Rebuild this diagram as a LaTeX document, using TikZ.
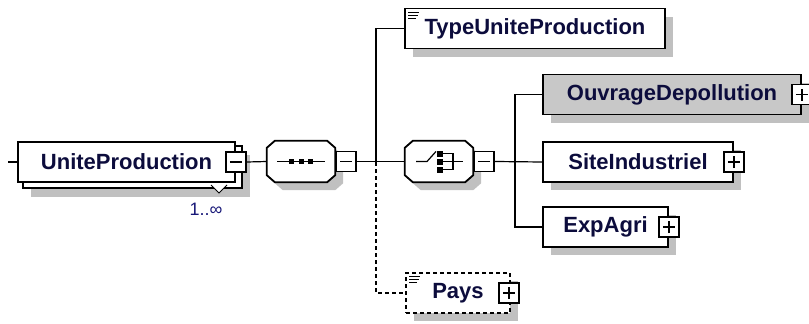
\documentclass[tikz,border=0pt]{standalone}
\usepackage{fontspec}
\setmainfont{Liberation Sans}
\usetikzlibrary{shadows,backgrounds}
\definecolor{namecol}{RGB}{12,12,60}
\definecolor{cardcol}{RGB}{24,24,120}
\definecolor{shadegray}{RGB}{192,192,192}
\definecolor{fillgray}{RGB}{200,200,200}

\begin{document}
\begin{tikzpicture}[x=1pt,y=-1pt]

\tikzstyle{el} = [rectangle, draw=black, line width=1.8pt, fill=white, minimum height=40pt, inner sep=0pt, text=namecol, font=\fontsize{22}{22}\selectfont\bfseries]
\tikzstyle{sh} = [drop shadow={shadow xshift=8pt, shadow yshift=-8pt, fill=shadegray, opacity=1}]
\tikzstyle{oct} = [rectangle, minimum width=68pt, minimum height=41pt, inner sep=0pt]
\tikzstyle{minus} = [rectangle, draw=black, line width=1.8pt, fill=white, minimum size=20pt, inner sep=0pt, path picture={\draw[line width=1.2pt] ([xshift=4pt]path picture bounding box.west) -- ([xshift=-4pt]path picture bounding box.east);}]
\tikzstyle{plus} = [rectangle, draw=black, line width=1.8pt, fill=white, minimum size=20pt, inner sep=0pt, path picture={\draw[line width=1.2pt] ([xshift=4pt]path picture bounding box.west) -- ([xshift=-4pt]path picture bounding box.east) ([yshift=4pt]path picture bounding box.south) -- ([yshift=-4pt]path picture bounding box.north);}]
\tikzstyle{e} = [line width=1.2pt]

\useasboundingbox (0,0) rectangle (809,324);

\node[el, minimum width=217pt](up)at(126.5,162){UniteProduction};
\node[oct](seq)at(301,161.5){};
\node[oct](cho)at(439,161.5){};
\node[el, sh, minimum width=260pt](type)at(535,28.5){TypeUniteProduction};
\node[el, sh, fill=fillgray, minimum width=258pt](ouv)at(672,94.5){OuvrageDepollution};
\node[el, sh, minimum width=190pt](site)at(638,162){SiteIndustriel};
\node[el, sh, minimum width=125pt](exp)at(605.5,227){ExpAgri};
\node[el, sh, dashed, dash pattern=on 4pt off 3pt, minimum width=104pt](pays)at(458,293){Pays};

\foreach \nd in {seq,cho}
  \draw[sh, line width=1.8pt, fill=white] ([xshift=8pt]\nd.north west) -- ([xshift=-8pt]\nd.north east)
    -- ([yshift=-7pt]\nd.north east) -- ([yshift=7pt]\nd.south east) -- ([xshift=-8pt]\nd.south east)
    -- ([xshift=8pt]\nd.south west) -- ([yshift=7pt]\nd.south west) -- ([yshift=-7pt]\nd.north west) -- cycle;

\node[minus](upm)at(up.east){};
\node[minus, anchor=west](seqm)at(seq.east){};
\node[minus, anchor=west](chom)at(cho.east){};
\node[plus](ouvp)at(ouv.east){};
\node[plus](sitep)at(site.east){};
\node[plus](expp)at(exp.east){};
\node[plus](paysp)at([xshift=-2pt]pays.east){};

\node[font=\fontsize{18}{18}\selectfont, text=cardcol](card)at(206,209){1..∞};

\begin{scope}[on background layer]
\fill[shadegray] ([shift={(14,14)}]up.north west) rectangle ([shift={(14,14)}]up.south east);
\draw[line width=1.8pt, fill=white] ([shift={(6,5)}]up.north west) rectangle ([shift={(6,5)}]up.south east);
\draw[line width=0.8pt, fill=white] (211,185) -- (219,193) -- (227,185);
\end{scope}

\coordinate (in) at (8,162);
\coordinate (j1) at (376,162);
\coordinate (j2) at (515,162);

\draw[e](in) -- (up.west);
\draw[e](upm.east) -- (seq.west);
\draw[e](seqm.east) -- (cho.west);
\draw[e](j1) |- (type.west);
\draw[e, dashed, dash pattern=on 4pt off 3pt](j1) |- (pays.west);
\draw[e](chom.east) -- (site.west);
\draw[e](j2) |- (ouv.west);
\draw[e](j2) |- (exp.west);

\draw[e](seq.center) ++(-24,0) -- ++(48,0);
\foreach \dx in {-9.5,0,9.5}
  \fill ([shift={(\dx-2.5,-2.5)}]seq.center) rectangle +(5,5);

\draw[e]([shift={(-23,0)}]cho.center) -- ++(11,0) -- ++(9,-10);
\foreach \dy in {-8,0,8}
  \fill ([shift={(-2,\dy-3)}]cho.center) rectangle +(6,6);
\draw[e]([shift={(1,-8)}]cho.center) -- ++(13,0) -- ++(0,16) -- ++(-13,0);
\draw[e]([shift={(1,0)}]cho.center) -- ++(23,0);

\foreach \nd in {type,pays}
  \foreach \dy/\len in {4.5/11,7.5/10,10.5/8}
    \draw[line width=1pt]([shift={(4,\dy)}]\nd.north west) -- ++(\len,0);

\end{tikzpicture}
\end{document}
